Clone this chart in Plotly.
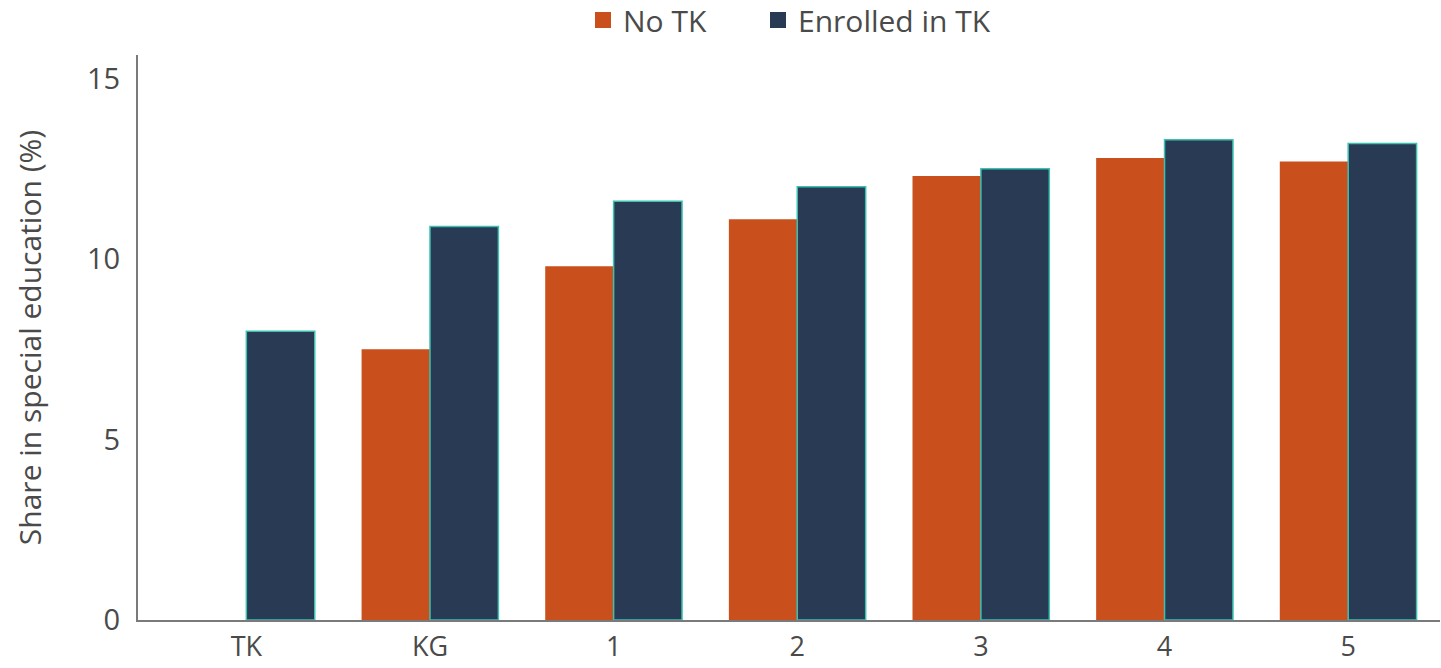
import plotly.graph_objects as go

grades = ["TK", "KG", "1", "2", "3", "4", "5"]
no_tk = [None, 7.5, 9.8, 11.1, 12.3, 12.8, 12.7]
enrolled_tk = [8.0, 10.9, 11.6, 12.0, 12.5, 13.3, 13.2]

ORANGE = "#C9501C"
NAVY = "#283A54"
TEAL = "#3CC0B0"
TEXT = "#4A4A4A"
FONT = "'Open Sans', Lato, sans-serif"

fig = go.Figure()
fig.add_trace(go.Bar(
    name="No TK", x=grades, y=no_tk, showlegend=False,
    marker=dict(color=ORANGE, line=dict(width=0)),
))
fig.add_trace(go.Bar(
    name="Enrolled in TK", x=grades, y=enrolled_tk, showlegend=False,
    marker=dict(color=NAVY, line=dict(color=TEAL, width=1.5)),
))

# Legend entries drawn as larger square swatches, one legend box each
for name, color, lg in [("No TK", ORANGE, "legend"), ("Enrolled in TK", NAVY, "legend2")]:
    fig.add_trace(go.Scatter(
        name=name, x=[None], y=[None], mode="markers", legend=lg,
        marker=dict(symbol="square", size=21, color=color),
    ))

legend_style = dict(
    orientation="h", xref="container", yref="container",
    xanchor="left", yanchor="middle", y=1 - 20 / 668,
    font=dict(size=30, color=TEXT), itemsizing="trace", itemwidth=30,
    bgcolor="rgba(0,0,0,0)",
)

fig.update_layout(
    width=1441, height=668,
    margin=dict(l=138, r=1, t=55, b=48),
    paper_bgcolor="white", plot_bgcolor="white",
    barmode="group", bargap=0.255, bargroupgap=0,
    font=dict(family=FONT, size=30, color=TEXT),
    legend=dict(legend_style, x=(603 - 20) / 1441),
    legend2=dict(legend_style, x=(778 - 20) / 1441),
    showlegend=True,
)
fig.update_xaxes(
    type="category", range=[-0.59, 6.5],
    showline=True, linecolor="#7A7A7A", linewidth=2,
    ticks="", showgrid=False, ticklabelstandoff=2,
    tickfont=dict(size=27, color=TEXT), automargin=False,
)
fig.update_yaxes(
    range=[0, 15.65], tickvals=[0, 5, 10, 15],
    showline=True, linecolor="#7A7A7A", linewidth=2,
    ticks="", showgrid=False, zeroline=False, ticklabelstandoff=10,
    tickfont=dict(size=29, color=TEXT),
    title=dict(text="Share in special education (%)", standoff=37,
               font=dict(size=30, color=TEXT)),
    automargin=False,
)

fig.write_html("out.html")
